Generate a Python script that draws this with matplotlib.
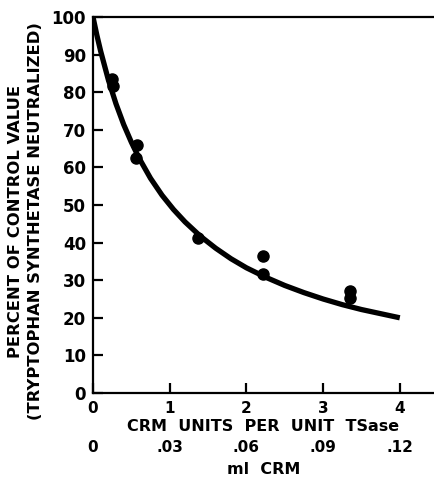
import matplotlib
matplotlib.use("Agg")
import matplotlib.pyplot as plt

plt.rcParams['font.family'] = ['DejaVu Sans']
plt.rcParams['font.weight'] = 'bold'

# measured points (CRM units per unit TSase, percent neutralized)
crm_units = [0.25, 0.26, 0.57, 0.56, 1.37, 2.22, 2.22, 3.35, 3.35]
percent = [83.5, 81.7, 66.0, 62.5, 41.2, 36.5, 31.7, 27.2, 25.2]

# fitted curve
curve_x = [0, 0.05, 0.1, 0.2, 0.3, 0.4, 0.5, 0.6, 0.75, 0.9, 1.05, 1.2, 1.4,
           1.6, 1.8, 2.0, 2.25, 2.5, 2.75, 3.0, 3.25, 3.5, 3.75, 4.0]
curve_y = [100, 95.2, 90.9, 83.3, 76.9, 71.4, 66.7, 62.5, 57.1, 52.6, 48.8,
           45.5, 41.7, 38.5, 35.7, 33.3, 30.8, 28.6, 26.7, 25.0, 23.5, 22.2,
           21.1, 20.0]

x_ticks = [0, 1, 2, 3, 4]
x_labels = ['0', '1', '2', '3', '4']
ml_labels = ['0', '.03', '.06', '.09', '.12']
y_ticks = list(range(0, 101, 10))

fig = plt.figure(figsize=(4.34, 4.79), dpi=100)
ax = fig.add_axes([93/434, 1 - 393/479, 1 - 93/434, (393 - 17)/479])

ax.plot(curve_x, curve_y, color='black', lw=3.8, solid_capstyle='butt', zorder=3)
ax.plot(crm_units, percent, 'o', color='black', ms=8, zorder=4)

ax.set_xlim(0, (434 - 93)/76.7)
ax.set_ylim(0, 100)
ax.spines['right'].set_visible(False)
for s in ['left', 'bottom', 'top']:
    ax.spines[s].set_linewidth(1.6)

ax.set_xticks(x_ticks, labels=x_labels)
ax.set_yticks(y_ticks)
ax.tick_params(axis='both', direction='in', length=7, width=1.6)
ax.tick_params(axis='x', labelsize=11, pad=6)
ax.tick_params(axis='y', labelsize=12, pad=5)
ax.set_xlabel('CRM  UNITS  PER  UNIT  TSase', fontsize=11.5, fontweight='bold',
              labelpad=2)

sec = ax.secondary_xaxis(-0.125)
sec.set_xticks(x_ticks, labels=ml_labels)
sec.tick_params(length=0, labelsize=11, pad=0)
sec.spines['bottom'].set_visible(False)
sec.set_xlabel('ml  CRM', fontsize=11.5, fontweight='bold', labelpad=5)

fig.text(16/434, 1 - 221/479, 'PERCENT OF CONTROL VALUE', rotation=90,
         ha='center', va='center', fontsize=11.8, fontweight='bold')
fig.text(36/434, 1 - 221/479, '(TRYPTOPHAN SYNTHETASE NEUTRALIZED)', rotation=90,
         ha='center', va='center', fontsize=11.8, fontweight='bold')

fig.savefig('out.png', dpi=100)
